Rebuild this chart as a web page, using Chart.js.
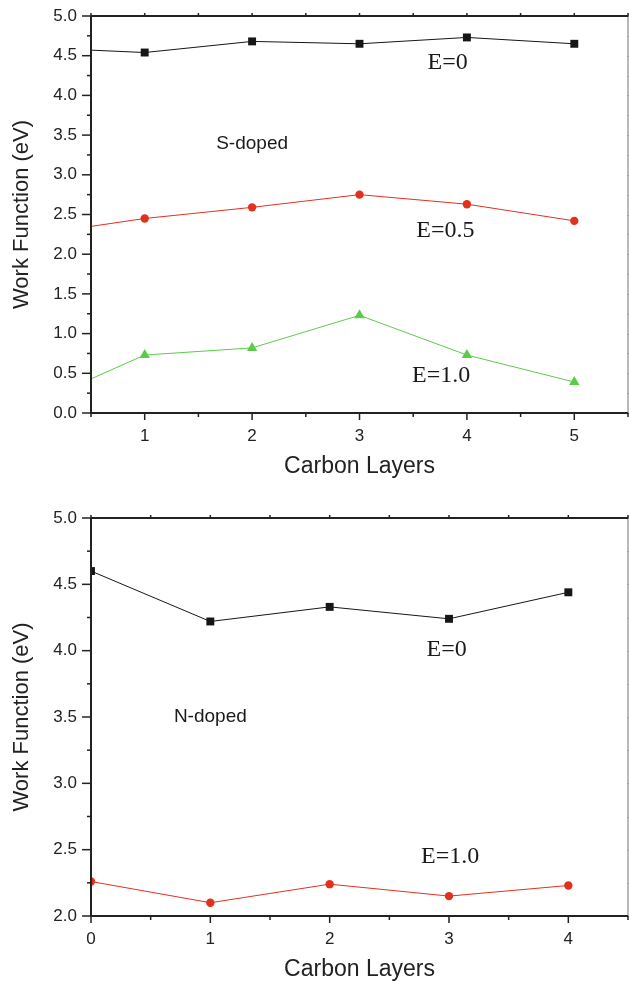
<!DOCTYPE html>
<html lang="en">
    <head>
        <meta charset="UTF-8" />
        <title>Work Function vs Carbon Layers</title>
        <script src="https://cdn.jsdelivr.net/npm/chart.js@4.4.1/dist/chart.umd.min.js"></script>
        <style>
            body { margin: 0; background: #fff; }
            canvas { position: absolute; left: 0; }
            #topchart { top: 0; }
            #botchart { top: 490px; }
        </style>
    </head>
    <body>
        <canvas id="topchart" width="629" height="490"></canvas>
        <canvas id="botchart" width="629" height="491"></canvas>
        <script>
            // S-doped panel
            const topLayers = [0, 1, 2, 3, 4, 5];
            const topE0  = [4.60, 4.54, 4.68, 4.65, 4.73, 4.65];
            const topE05 = [2.25, 2.45, 2.59, 2.75, 2.63, 2.42];
            const topE10 = [0.13, 0.73, 0.82, 1.23, 0.73, 0.39];

            // N-doped panel
            const botLayers = [0, 1, 2, 3, 4];
            const botE0  = [4.60, 4.22, 4.33, 4.24, 4.44];
            const botE10 = [2.26, 2.10, 2.24, 2.15, 2.23];

            // text notes, placed in data units
            const topNotes = [
                { text: "S-doped", x: 2.0,  y: 3.39, serif: false },
                { text: "E=0",     x: 3.82, y: 4.41, serif: true },
                { text: "E=0.5",   x: 3.80, y: 2.30, serif: true },
                { text: "E=1.0",   x: 3.76, y: 0.47, serif: true }
            ];
            const botNotes = [
                { text: "N-doped", x: 1.0,  y: 3.50, serif: false },
                { text: "E=0",     x: 2.98, y: 4.01, serif: true },
                { text: "E=1.0",   x: 3.01, y: 2.445, serif: true }
            ];

            const BLACK = "#161616";
            const RED   = "#e2301f";
            const GREEN = "#5ccb4a";
            const SANS  = "'Liberation Sans', Arial, sans-serif";
            const SERIF = "'Liberation Serif', 'Times New Roman', serif";

            function pts(xs, ys)  {
                return xs.map((x, i) => ({ x: x, y: ys[i] }));
            }

            function series(xs, ys, color, style, radius)  {
                return {
                    data: pts(xs, ys),
                    borderColor: color,
                    backgroundColor: color,
                    borderWidth: 1,
                    pointStyle: style,
                    pointRadius: radius,
                    pointHoverRadius: radius,
                    pointBorderWidth: 0,
                    tension: 0,
                    clip: 0
                };
            }

            function isWhole(v)  {
                return Math.abs(v - Math.round(v)) < 1e-6;
            }

            // keep the plot box where the layout padding puts it
            function noScalePad(s)  {
                s.paddingTop = 0;
                s.paddingBottom = 0;
                s.paddingLeft = 0;
                s.paddingRight = 0;
            }

            // axes frame, tick marks and notes
            const framePlugin = {
                id: "frame",
                afterDatasetsDraw(chart, args, opts)  {
                    const c = chart.ctx;
                    const a = chart.chartArea;
                    const xs = chart.scales.x, ys = chart.scales.y;
                    c.save();

                    // right border, grey
                    c.strokeStyle = "#8a8a8a";
                    c.lineWidth = 1.2;
                    c.beginPath();
                    c.moveTo(a.right, a.top);
                    c.lineTo(a.right, a.bottom);
                    c.stroke();
                    for (let v = ys.min; v <= ys.max + 1e-9; v += 0.25)  {
                        const p = Math.round(ys.getPixelForValue(v)) + 0.5;
                        c.beginPath();
                        c.moveTo(a.right, p);
                        c.lineTo(a.right + 3, p);
                        c.stroke();
                    }

                    c.strokeStyle = "#222";
                    c.lineWidth = 2;
                    c.beginPath();
                    c.moveTo(a.left, a.top);
                    c.lineTo(a.left, a.bottom);
                    c.lineTo(a.right, a.bottom);
                    c.moveTo(a.left, a.top);
                    c.lineTo(a.right, a.top);
                    c.stroke();

                    c.lineWidth = 1.5;
                    // y ticks
                    for (let v = ys.min; v <= ys.max + 1e-9; v += 0.25)  {
                        const p = ys.getPixelForValue(v);
                        const major = isWhole(v * 2);
                        c.beginPath();
                        c.moveTo(a.left - (major ? 9 : 4), p);
                        c.lineTo(a.left, p);
                        c.stroke();
                    }
                    // x ticks, bottom and top
                    for (let v = xs.min; v <= xs.max + 1e-9; v += 0.5)  {
                        const p = xs.getPixelForValue(v);
                        const major = isWhole(v);
                        c.beginPath();
                        c.moveTo(p, a.bottom);
                        c.lineTo(p, a.bottom + (major ? 7 : 4));
                        c.moveTo(p, a.top);
                        c.lineTo(p, a.top - 3);
                        c.stroke();
                    }

                    // notes
                    c.fillStyle = "#1a1a1a";
                    c.textAlign = "center";
                    c.textBaseline = "middle";
                    opts.notes.forEach(n =>  {
                        c.font = n.serif ? "24px " + SERIF : "19px " + SANS;
                        c.fillText(n.text, xs.getPixelForValue(n.x), ys.getPixelForValue(n.y));
                    });
                    c.restore();
                }
            };

            function drawPanel(id, datasets, xmin, xmax, ymin, ymax, xHeight, padTop, titlePad, notes)  {
                const ctx = document.getElementById(id).getContext("2d");
                return new Chart(ctx, {
                    type: "line",
                    data: { datasets: datasets },
                    options: {
                        responsive: false,
                        animation: false,
                        events: [],
                        layout: {
                            autoPadding: false,
                            padding: { left: 0, right: 1, top: padTop, bottom: 0 }
                        },
                        plugins: {
                            legend: { display: false },
                            tooltip: { enabled: false },
                            frame: { notes: notes }
                        },
                        scales: {
                            x: {
                                type: "linear",
                                min: xmin,
                                max: xmax,
                                grid: { display: false, drawTicks: false, tickLength: 0 },
                                border: { display: false },
                                ticks: {
                                    stepSize: 0.5,
                                    autoSkip: false,
                                    maxRotation: 0,
                                    padding: 13,
                                    color: "#222",
                                    font: { family: SANS, size: 17 },
                                    callback: v => isWhole(v) ? String(Math.round(v)) : ""
                                },
                                title: {
                                    display: true,
                                    text: "Carbon Layers",
                                    color: "#222",
                                    font: { family: SANS, size: 23, lineHeight: 1 },
                                    padding: { top: 0, bottom: titlePad }
                                },
                                afterFit: s => { s.height = xHeight; noScalePad(s); }
                            },
                            y: {
                                min: ymin,
                                max: ymax,
                                grid: { display: false, drawTicks: false, tickLength: 0 },
                                border: { display: false },
                                ticks: {
                                    stepSize: 0.5,
                                    autoSkip: false,
                                    padding: 14,
                                    color: "#222",
                                    font: { family: SANS, size: 17 },
                                    callback: v => v.toFixed(1)
                                },
                                title: {
                                    display: true,
                                    text: "Work Function (eV)",
                                    color: "#222",
                                    font: { family: SANS, size: 22, lineHeight: 1 },
                                    padding: { top: 11, bottom: 0 }
                                },
                                afterFit: s => { s.width = 91; noScalePad(s); }
                            }
                        }
                    },
                    plugins: [framePlugin]
                });
            }

            drawPanel("topchart", [
                series(topLayers, topE0, BLACK, "rect", 5.6),
                series(topLayers, topE05, RED, "circle", 4.2),
                series(topLayers, topE10, GREEN, "triangle", 6)
            ], 0.5, 5.5, 0, 5, 77, 16, 12, topNotes);

            drawPanel("botchart", [
                series(botLayers, botE0, BLACK, "rect", 5.6),
                series(botLayers, botE10, RED, "circle", 4.2)
            ], 0, 4.5, 2, 5, 65, 28, 0, botNotes);
        </script>
    </body>
</html>
